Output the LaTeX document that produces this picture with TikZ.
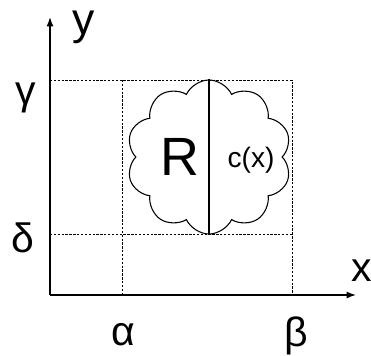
\documentclass[tikz,border=0pt]{standalone}
\usepackage{fontspec}
\setmainfont{Liberation Sans}
\usetikzlibrary{arrows.meta, shapes.symbols, positioning}

\begin{document}
\begin{tikzpicture}[x=0.03cm,y=0.03cm,
  axis/.style={-{Latex[length=8pt,width=6pt]},line width=1.3pt},
  guide/.style={line width=0.8pt,dash pattern=on 2pt off 1.3pt},
  lbl/.style={font=\fontsize{35}{37}\selectfont,inner sep=0pt}]
  \useasboundingbox (0,0) rectangle (371,355);
  \coordinate (O) at (50,60);
  \coordinate (Yend) at (50,338);
  \coordinate (Xend) at (356,60);
  \coordinate (Ga) at (50,275);
  \coordinate (De) at (50,121);
  \coordinate (Al) at (122,60);
  \coordinate (Be) at (292,60);
  \coordinate (AlTop) at (122,275);
  \coordinate (BeTop) at (292,275);
  \coordinate (BeDe) at (292,121);
  % bounding box of the region
  \draw[guide] (Ga) -- (BeTop) -- (Be);
  \draw[guide] (De) -- (BeDe);
  \draw[guide] (AlTop) -- (Al);
  % the region R
  \node[cloud,draw,line width=0.9pt,cloud puffs=10,cloud puff arc=130,
        minimum width=4.95cm,minimum height=4.62cm,inner sep=0pt]
        (reg) at (209,198) {};
  \draw[line width=1.2pt] (reg.north) -- (reg.south);
  \node[font=\fontsize{46}{48}\selectfont,inner sep=0pt] (R) at (180,198) {R};
  \node[font=\fontsize{24}{26}\selectfont,inner sep=0pt] (cx) at (251,195) {c(x)};
  % axes
  \draw[axis] (O) -- (Yend);
  \draw[axis] (O) -- (Xend);
  \node[font=\fontsize{38}{40}\selectfont,inner sep=0pt] (ylab) at (84,328) {y};
  \node[lbl] (xlab) at (362,84) {x};
  \node[lbl] (glab) at (26,257) {γ};
  \node[lbl] (dlab) at (23,117) {δ};
  \node[lbl] (alab) at (123,20) {α};
  \node[lbl] (blab) at (296,19) {β};
\end{tikzpicture}
\end{document}
